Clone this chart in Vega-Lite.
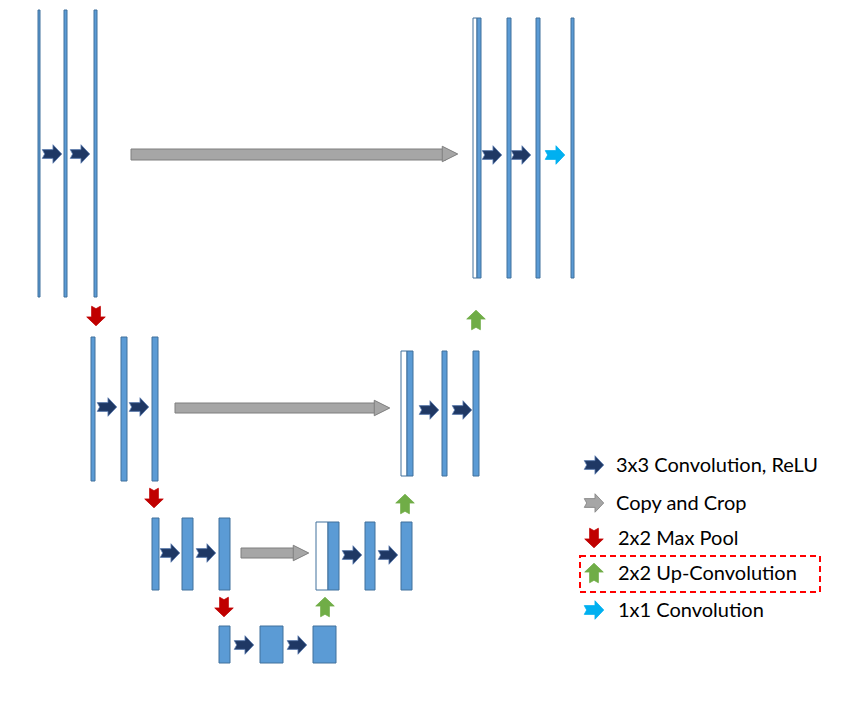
{
  "$schema": "https://vega.github.io/schema/vega-lite/v6.json",
  "autosize": "none",
  "width": 857,
  "height": 720,
  "padding": 0,
  "background": "white",
  "config": {"view": {"stroke": null}},
  "datasets": {
    "bars": [
      {"x": 38, "x2": 40, "y": 10, "y2": 297, "face": "blue"},
      {"x": 64, "x2": 67, "y": 10, "y2": 297, "face": "blue"},
      {"x": 94, "x2": 97, "y": 10, "y2": 297, "face": "blue"},
      {"x": 473, "x2": 477, "y": 18, "y2": 278, "face": "white"},
      {"x": 477, "x2": 481, "y": 18, "y2": 278, "face": "blue"},
      {"x": 507, "x2": 511, "y": 18, "y2": 278, "face": "blue"},
      {"x": 536, "x2": 540, "y": 18, "y2": 278, "face": "blue"},
      {"x": 571, "x2": 574, "y": 18, "y2": 278, "face": "blue"},
      {"x": 91, "x2": 95, "y": 337, "y2": 481, "face": "blue"},
      {"x": 121, "x2": 127, "y": 337, "y2": 481, "face": "blue"},
      {"x": 152, "x2": 158, "y": 337, "y2": 481, "face": "blue"},
      {"x": 401, "x2": 407, "y": 351, "y2": 476, "face": "white"},
      {"x": 407, "x2": 413, "y": 351, "y2": 476, "face": "blue"},
      {"x": 442, "x2": 447, "y": 351, "y2": 476, "face": "blue"},
      {"x": 473, "x2": 479, "y": 351, "y2": 476, "face": "blue"},
      {"x": 152, "x2": 159, "y": 518, "y2": 590, "face": "blue"},
      {"x": 182, "x2": 193, "y": 518, "y2": 590, "face": "blue"},
      {"x": 219, "x2": 230, "y": 518, "y2": 590, "face": "blue"},
      {"x": 316, "x2": 328, "y": 522, "y2": 590, "face": "white"},
      {"x": 328, "x2": 339, "y": 522, "y2": 590, "face": "blue"},
      {"x": 365, "x2": 375, "y": 522, "y2": 590, "face": "blue"},
      {"x": 401, "x2": 412, "y": 522, "y2": 590, "face": "blue"},
      {"x": 219, "x2": 230, "y": 626, "y2": 663, "face": "blue"},
      {"x": 260, "x2": 283, "y": 626, "y2": 663, "face": "blue"},
      {"x": 313, "x2": 336, "y": 626, "y2": 663, "face": "blue"}
    ],
    "copies": [
      {"x": 131, "x2": 446, "y": 149, "y2": 160, "hx": 450},
      {"x": 175, "x2": 378, "y": 403, "y2": 413, "hx": 382},
      {"x": 241, "x2": 297, "y": 548, "y2": 558, "hx": 301}
    ],
    "arrows": [
      {"x": 52, "y": 154, "kind": "conv", "angle": 0},
      {"x": 80, "y": 154, "kind": "conv", "angle": 0},
      {"x": 492, "y": 155, "kind": "conv", "angle": 0},
      {"x": 521, "y": 155, "kind": "conv", "angle": 0},
      {"x": 555, "y": 155, "kind": "1x1", "angle": 0},
      {"x": 107, "y": 407, "kind": "conv", "angle": 0},
      {"x": 139, "y": 407, "kind": "conv", "angle": 0},
      {"x": 429, "y": 410, "kind": "conv", "angle": 0},
      {"x": 462, "y": 410, "kind": "conv", "angle": 0},
      {"x": 170, "y": 553, "kind": "conv", "angle": 0},
      {"x": 206, "y": 553, "kind": "conv", "angle": 0},
      {"x": 352, "y": 555, "kind": "conv", "angle": 0},
      {"x": 388, "y": 555, "kind": "conv", "angle": 0},
      {"x": 244, "y": 645, "kind": "conv", "angle": 0},
      {"x": 297, "y": 645, "kind": "conv", "angle": 0},
      {"x": 96, "y": 316, "kind": "pool", "angle": 90},
      {"x": 154, "y": 498, "kind": "pool", "angle": 90},
      {"x": 224, "y": 607, "kind": "pool", "angle": 90},
      {"x": 476, "y": 320, "kind": "up", "angle": -90},
      {"x": 405, "y": 504, "kind": "up", "angle": -90},
      {"x": 325, "y": 607, "kind": "up", "angle": -90},
      {"x": 594, "y": 465, "kind": "conv", "angle": 0},
      {"x": 594, "y": 503, "kind": "copy", "angle": 0},
      {"x": 594, "y": 538, "kind": "pool", "angle": 90},
      {"x": 594, "y": 573, "kind": "up", "angle": -90},
      {"x": 594, "y": 610, "kind": "1x1", "angle": 0}
    ],
    "legend": [
      {"x": 616, "y": 466, "label": "3x3 Convolution, ReLU"},
      {"x": 616, "y": 504, "label": "Copy and Crop"},
      {"x": 618, "y": 539, "label": "2x2 Max Pool"},
      {"x": 618, "y": 574, "label": "2x2 Up-Convolution"},
      {"x": 618, "y": 611, "label": "1x1 Convolution"}
    ],
    "box": [{"x": 580, "x2": 820, "y": 556, "y2": 592}]
  },
  "resolve": {"scale": {"fill": "independent", "stroke": "independent"}},
  "layer": [
    {
      "data": {"name": "bars"},
      "mark": {"type": "rect", "stroke": "#41719C", "strokeWidth": 1},
      "encoding": {
        "x": {"field": "x", "type": "quantitative", "scale": {"domain": [0, 857], "nice": false, "zero": false}, "axis": null},
        "x2": {"field": "x2"},
        "y": {"field": "y", "type": "quantitative", "scale": {"domain": [0, 720], "nice": false, "zero": false, "reverse": true}, "axis": null},
        "y2": {"field": "y2"},
        "fill": {"field": "face", "type": "nominal", "scale": {"domain": ["blue", "white"], "range": ["#5B9BD5", "#FFFFFF"]}, "legend": null}
      }
    },
    {
      "data": {"name": "copies"},
      "mark": {"type": "rect", "fill": "#A6A6A6", "stroke": "#7F7F7F", "strokeWidth": 1},
      "encoding": {
        "x": {"field": "x", "type": "quantitative"},
        "x2": {"field": "x2"},
        "y": {"field": "y", "type": "quantitative"},
        "y2": {"field": "y2"}
      }
    },
    {
      "data": {"name": "copies"},
      "mark": {"type": "point", "shape": "M-1,-1 L1,0 L-1,1 Z", "filled": true, "fill": "#A6A6A6", "stroke": "#7F7F7F", "strokeWidth": 1, "size": 240, "opacity": 1},
      "encoding": {
        "x": {"field": "hx", "type": "quantitative"},
        "y": {"field": "y", "type": "quantitative"},
        "yOffset": {"value": 5}
      }
    },
    {
      "data": {"name": "arrows"},
      "mark": {"type": "point", "shape": "M-1,-0.45 L0.1,-0.45 L0.1,-0.95 L1,0 L0.1,0.95 L0.1,0.45 L-1,0.45 L-0.75,0 Z", "filled": true, "size": 380, "opacity": 1, "strokeWidth": 0.8},
      "encoding": {
        "x": {"field": "x", "type": "quantitative"},
        "y": {"field": "y", "type": "quantitative"},
        "angle": {"field": "angle", "type": "quantitative", "scale": null},
        "fill": {"field": "kind", "type": "nominal", "scale": {"domain": ["conv", "copy", "pool", "up", "1x1"], "range": ["#1F3864", "#A6A6A6", "#C00000", "#70AD47", "#00B0F0"]}, "legend": null},
        "stroke": {"field": "kind", "type": "nominal", "scale": {"domain": ["conv", "copy", "pool", "up", "1x1"], "range": ["#5B7BB0", "#7F7F7F", "#C00000", "#70AD47", "#00B0F0"]}, "legend": null}
      }
    },
    {
      "data": {"name": "box"},
      "mark": {"type": "rect", "fill": null, "stroke": "#FF0000", "strokeWidth": 2, "strokeDash": [6, 4]},
      "encoding": {
        "x": {"field": "x", "type": "quantitative"},
        "x2": {"field": "x2"},
        "y": {"field": "y", "type": "quantitative"},
        "y2": {"field": "y2"}
      }
    },
    {
      "data": {"name": "legend"},
      "mark": {"type": "text", "align": "left", "baseline": "middle", "font": "Lato", "fontSize": 20, "color": "#000000"},
      "encoding": {
        "x": {"field": "x", "type": "quantitative"},
        "y": {"field": "y", "type": "quantitative"},
        "text": {"field": "label"}
      }
    }
  ]
}
